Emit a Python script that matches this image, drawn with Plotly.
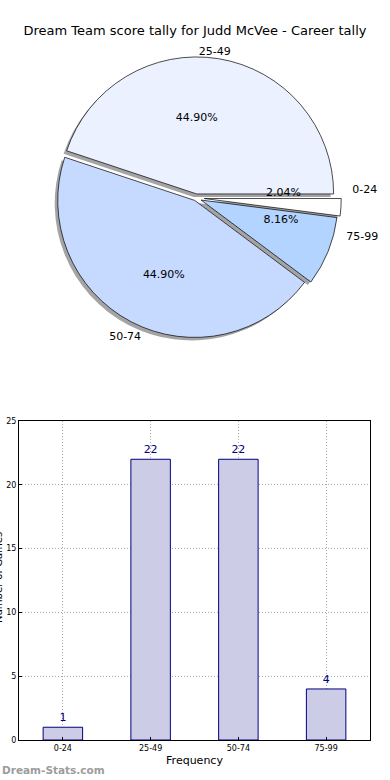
import plotly.graph_objects as go

# ---- data ----
categories = ["0-24", "25-49", "50-74", "75-99"]
counts = [1, 22, 22, 4]
pie_colors = ["#FFFFFF", "#EBF1FF", "#C6D9FF", "#B3D4FF"]
pull = [0.06, 0.03, 0.02, 0.04]
title_text = "Dream Team score tally for Judd McVee - Career tally"
y_title = "Number of Games"
x_title = "Frequency"
watermark = "Dream-Stats.com"
y_ticks = [0, 5, 10, 15, 20, 25]

# text placement tweaks per slice: (dx, dy, scale) in pixels
pct_adjust = [(0, -11, 0.64), (-11, -8, 1.0), (1, 13, 1.0), (3, -12, 0.77)]
label_adjust = [(8, -18), (-23, -1), (13, 9), (15, -16)]

W, H = 390, 780
ml, mr, mt, mb = 19, 20, 0, 40
pw, ph = W - ml - mr, H - mt - mb


def py(y):
    return (H - mb - y) / ph


def px(x):
    return (x - ml) / pw


def pie_domain(cx, cy, half):
    return dict(x=[px(cx - half), px(cx + half)], y=[py(cy + half), py(cy - half)])


# pie geometry (pixels)
cx, cy, r = 196, 198, 137
half = r * (1 + max(pull))
dom = pie_domain(cx, cy, half)
sh = 3
dom_sh = pie_domain(cx - sh, cy + sh, half)

font = "DejaVu Sans"
fig = go.Figure()

common = dict(labels=categories, values=counts, sort=False, direction="counterclockwise",
              rotation=90, pull=pull, hoverinfo="skip", showlegend=False)
clear = dict(colors=["rgba(0,0,0,0)"] * 4, line=dict(width=0))
tfont = dict(family=font, size=11, color="black")

# shadow
fig.add_trace(go.Pie(**common, domain=dom_sh, textinfo="none",
                     marker=dict(colors=["rgba(90,90,90,0.55)"] * 4, line=dict(width=0))))
# slices
fig.add_trace(go.Pie(**common, domain=dom, textinfo="none",
                     marker=dict(colors=pie_colors, line=dict(color="black", width=0.7))))

# transparent carriers for the percentage texts (inside) and labels (outside)
for i, (dx, dy, k) in enumerate(pct_adjust):
    tmpl = ["%{percent:.2%}" if j == i else "" for j in range(len(categories))]
    fig.add_trace(go.Pie(**common, domain=pie_domain(cx + dx, cy + dy, half * k),
                         texttemplate=tmpl, textposition="inside",
                         insidetextorientation="horizontal", textfont=tfont, marker=clear))
for i, (dx, dy) in enumerate(label_adjust):
    tmpl = ["%{label}" if j == i else "" for j in range(len(categories))]
    fig.add_trace(go.Pie(**common, domain=pie_domain(cx + dx, cy + dy, half),
                         texttemplate=tmpl, textposition="outside", textfont=tfont, marker=clear))

# bar chart
fig.add_trace(go.Bar(x=categories, y=counts, width=0.45, text=counts, textposition="outside",
                     cliponaxis=False, textfont=dict(family=font, size=11, color="#000080"),
                     marker=dict(color="#CCCCE6", line=dict(color="#000080", width=1)),
                     hoverinfo="skip", showlegend=False))

axis_common = dict(showgrid=True, gridcolor="#a8a8a8", griddash="1px,2px", gridwidth=1,
                   showline=True, linecolor="black", linewidth=1, mirror=True,
                   ticks="inside", ticklen=3, tickcolor="black",
                   tickfont=dict(family=font, size=8, color="black"), zeroline=False)

fig.update_layout(
    width=W, height=H,
    margin=dict(l=ml, r=mr, t=mt, b=mb, autoexpand=False),
    paper_bgcolor="white", plot_bgcolor="white",
    font=dict(family=font, color="black"),
    title=dict(text=title_text, x=0.5, xanchor="center", y=1 - 30 / H, yanchor="middle",
               font=dict(family=font, size=13, color="black")),
    uniformtext=dict(minsize=11, mode="show"),
    xaxis=dict(domain=[0, 1], range=[-0.5, 3.5], **axis_common,
               title=dict(text=x_title, font=dict(family=font, size=11), standoff=4),
               automargin=False),
    yaxis=dict(domain=[0, py(421)], range=[0, 25], tickvals=y_ticks, **axis_common,
               automargin=False),
    annotations=[
        dict(text="<b>" + watermark + "</b>", xref="paper", yref="paper",
             x=px(0), y=py(770), xanchor="left", yanchor="middle", showarrow=False,
             font=dict(family=font, size=10.5, color="#9c9c9c")),
        dict(text=y_title, xref="paper", yref="paper", textangle=-90,
             x=px(-2), y=py(578), xanchor="center", yanchor="middle", showarrow=False,
             font=dict(family=font, size=10, color="black")),
    ],
)

fig.write_html("out.html", config={"displayModeBar": False},
               post_script="document.body.style.margin='0';")
